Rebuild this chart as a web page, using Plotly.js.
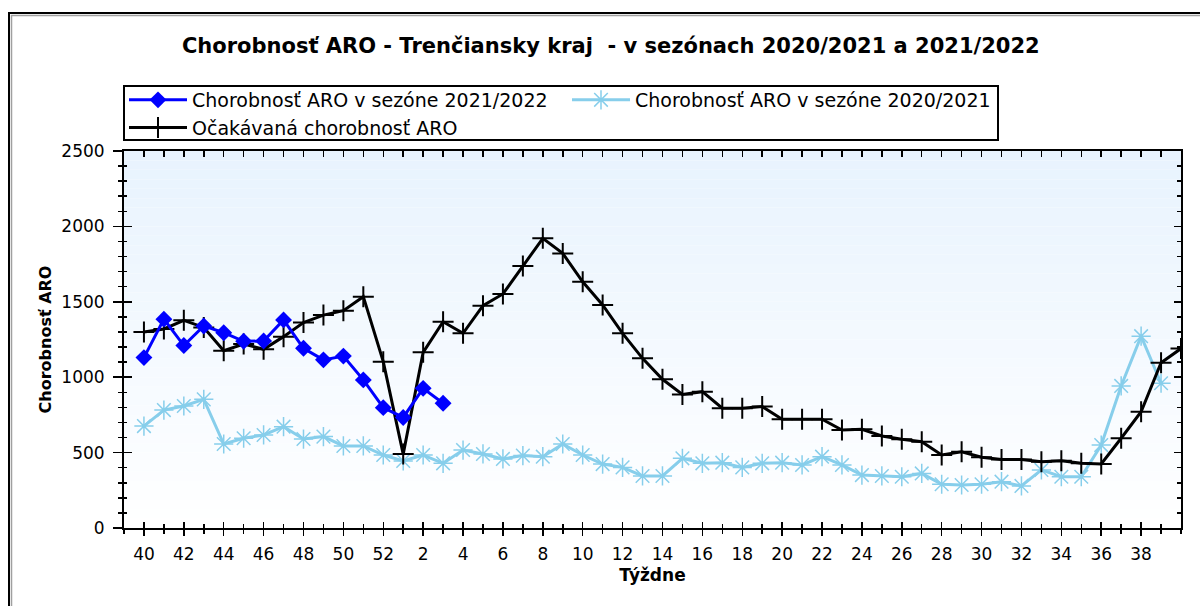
<!DOCTYPE html>
<html>
<head>
<meta charset="utf-8">
<script src="https://cdn.plot.ly/plotly-3.0.1.min.js"></script>
<style>html,body{margin:0;padding:0;background:#fff;}#chart{width:1200px;height:606px;}</style>
</head>
<body>
<div id="chart"></div>
<script>
// Week labels along the x axis (index position -> calendar week)
const weeks = [40,41,42,43,44,45,46,47,48,49,50,51,52,1,2,3,4,5,6,7,8,9,10,11,12,13,14,15,16,17,18,19,20,21,22,23,24,25,26,27,28,29,30,31,32,33,34,35,36,37,38,39,40];

// Chorobnosť ARO v sezóne 2021/2022
const season2122 = [1130,1385,1210,1340,1295,1238,1240,1380,1192,1115,1140,982,798,733,926,827];

// Chorobnosť ARO v sezóne 2020/2021
const season2021 = [676,782,809,853,557,595,617,672,590,606,544,544,484,445,484,429,517,491,458,480,473,557,484,424,402,345,345,462,429,433,402,429,433,418,473,418,351,345,340,362,290,285,290,307,279,385,340,340,550,942,1272,960];

// Očakávaná chorobnosť ARO
const expected = [1300,1320,1377,1330,1176,1220,1185,1269,1362,1412,1441,1534,1103,490,1165,1368,1291,1474,1552,1737,1921,1821,1633,1479,1291,1125,986,886,904,794,794,805,721,721,721,650,655,610,588,572,484,506,469,455,455,440,446,429,425,595,771,1096,1190];

const names = ['Chorobnosť ARO v sezóne 2021/2022','Chorobnosť ARO v sezóne 2020/2021','Očakávaná chorobnosť ARO'];

const idx = arr => arr.map((_, i) => i);

const tickvals = [], ticktext = [];
for (let i = 0; i < weeks.length - 1; i += 2) { tickvals.push(i); ticktext.push(String(weeks[i])); }

const FONT = 'DejaVu Sans, Verdana, sans-serif';

const traces = [
  {
    x: idx(season2021), y: season2021, name: names[1], legendrank: 2,
    type: 'scatter', mode: 'lines+markers',
    line: {color: '#87CEEB', width: 3},
    marker: {symbol: 'asterisk-open', size: 16, color: '#87CEEB', line: {color: '#87CEEB', width: 1.5}}
  },
  {
    x: idx(expected), y: expected, name: names[2], legendrank: 3,
    type: 'scatter', mode: 'lines+markers',
    line: {color: '#000000', width: 3},
    marker: {symbol: 'cross-thin-open', size: 15, color: '#000000', line: {color: '#000000', width: 2}}
  },
  {
    x: idx(season2122), y: season2122, name: names[0], legendrank: 1,
    type: 'scatter', mode: 'lines+markers',
    line: {color: '#0000FF', width: 3},
    marker: {symbol: 'diamond', size: 13, color: '#0000FF'}
  }
];
// empty helper traces so the extra tick axes (frame ticks) get drawn
[['x2','y'],['x3','y'],['x','y2'],['x','y3']].forEach(([xa, ya]) => {
  traces.push({x: [], y: [], type: 'scatter', mode: 'lines', xaxis: xa, yaxis: ya, showlegend: false, hoverinfo: 'skip'});
});

// background gradient bands (light blue at top -> white at bottom)
const shapes = [];
const nb = 40;
const cTop = [232, 243, 254], cBot = [255, 255, 255];
for (let k = 0; k < nb; k++) {
  const t = k / (nb - 1);
  const c = cTop.map((v, j) => Math.round(v + (cBot[j] - v) * t));
  shapes.push({type: 'rect', xref: 'paper', yref: 'paper', x0: 0, x1: 1,
    y0: 1 - (k + 1) / nb, y1: 1 - k / nb, layer: 'below',
    fillcolor: 'rgb(' + c.join(',') + ')', line: {width: 0}});
}
// outer frame of the picture
const PL = 124, PT = 151, PW = 1057, PH = 377;
const px = x => (x - PL) / PW, py = y => (PT + PH - y) / PH;
shapes.push({type: 'path', xref: 'paper', yref: 'paper',
  path: `M ${px(9)} ${py(640)} L ${px(9)} ${py(13)} L ${px(1230)} ${py(13)}`,
  line: {color: '#000', width: 2}});
shapes.push({type: 'path', xref: 'paper', yref: 'paper',
  path: `M ${px(11.5)} ${py(640)} L ${px(11.5)} ${py(15.5)} L ${px(1230)} ${py(15.5)}`,
  line: {color: '#a0a0a0', width: 1.5}});
// legend box
shapes.push({type: 'rect', xref: 'paper', yref: 'paper',
  x0: px(124), x1: px(998), y0: py(140), y1: py(86),
  fillcolor: '#ffffff', line: {color: '#000', width: 2}});

const tickFont = {family: FONT, size: 17, color: '#000'};

const layout = {
  width: 1200, height: 606,
  margin: {l: PL, r: 1200 - PL - PW, t: PT, b: 606 - PT - PH, pad: 0},
  paper_bgcolor: '#ffffff', plot_bgcolor: '#ffffff',
  showlegend: true,
  title: {
    text: 'Chorobnosť ARO - Trenčiansky kraj  - v sezónach 2020/2021 a 2021/2022',
    font: {family: FONT, size: 21, color: '#000', weight: 'bold'},
    x: 0.509, xref: 'container', xanchor: 'center',
    y: 1 - 46 / 606, yref: 'container', yanchor: 'middle'
  },
  legend: {
    orientation: 'h', x: px(124), xanchor: 'left', y: py(81), yanchor: 'top',
    bgcolor: 'rgba(0,0,0,0)', borderwidth: 0,
    font: {family: FONT, size: 19, color: '#000'},
    traceorder: 'normal', itemwidth: 58,
    entrywidth: 370, entrywidthmode: 'pixels', itemclick: false
  },
  xaxis: {
    range: [-1, 52], tickmode: 'array', tickvals: tickvals, ticktext: ticktext,
    ticks: 'outside', ticklen: 6, tickwidth: 1.5, tickcolor: '#000',
    minor: {tickmode: 'linear', tick0: 0, dtick: 1, ticks: 'outside', ticklen: 4, tickwidth: 1.5, tickcolor: '#000'},
    showline: true, linecolor: '#000', linewidth: 2, showgrid: false, zeroline: false,
    tickfont: tickFont, ticklabelstandoff: 4,
    title: {text: 'Týždne', font: {family: FONT, size: 17, color: '#000', weight: 'bold'}, standoff: 6}
  },
  xaxis2: {
    overlaying: 'x', anchor: 'y', side: 'bottom', range: [-1, 52],
    tickmode: 'array', tickvals: tickvals, ticks: 'inside', ticklen: 6, tickwidth: 1.5, tickcolor: '#000',
    minor: {tickmode: 'linear', tick0: 0, dtick: 1, ticks: 'inside', ticklen: 4, tickwidth: 1.5, tickcolor: '#000'},
    showticklabels: false, showline: false, showgrid: false, zeroline: false
  },
  xaxis3: {
    overlaying: 'x', anchor: 'y', side: 'top', range: [-1, 52],
    tickmode: 'linear', tick0: 0, dtick: 1, ticks: 'inside', ticklen: 6, tickwidth: 1.5, tickcolor: '#000',
    showticklabels: false, showline: true, linecolor: '#000', linewidth: 2, showgrid: false, zeroline: false
  },
  yaxis: {
    range: [0, 2500], tickmode: 'linear', tick0: 0, dtick: 500,
    ticks: 'outside', ticklen: 9, tickwidth: 1.5, tickcolor: '#000',
    minor: {tickmode: 'linear', tick0: 0, dtick: 100, ticks: 'outside', ticklen: 4, tickwidth: 1.5, tickcolor: '#000'},
    showline: true, linecolor: '#000', linewidth: 2, showgrid: false, zeroline: false,
    tickfont: tickFont, ticklabelstandoff: 5,
    title: {text: 'Chorobnosť ARO', font: {family: FONT, size: 16, color: '#000', weight: 'bold'}, standoff: 6}
  },
  yaxis2: {
    overlaying: 'y', anchor: 'x', side: 'left', range: [0, 2500],
    tickmode: 'linear', tick0: 0, dtick: 500, ticks: 'inside', ticklen: 8, tickwidth: 1.5, tickcolor: '#000',
    minor: {tickmode: 'linear', tick0: 0, dtick: 100, ticks: 'inside', ticklen: 3, tickwidth: 1.5, tickcolor: '#000'},
    showticklabels: false, showline: false, showgrid: false, zeroline: false
  },
  yaxis3: {
    overlaying: 'y', anchor: 'x', side: 'right', range: [0, 2500],
    tickmode: 'linear', tick0: 0, dtick: 500, ticks: 'inside', ticklen: 7, tickwidth: 1.5, tickcolor: '#000',
    minor: {tickmode: 'linear', tick0: 0, dtick: 100, ticks: 'inside', ticklen: 4, tickwidth: 1.5, tickcolor: '#000'},
    showticklabels: false, showline: true, linecolor: '#000', linewidth: 2, showgrid: false, zeroline: false
  },
  shapes: shapes
};

Plotly.newPlot('chart', traces, layout, {displayModeBar: false, staticPlot: true});
</script>
</body>
</html>
